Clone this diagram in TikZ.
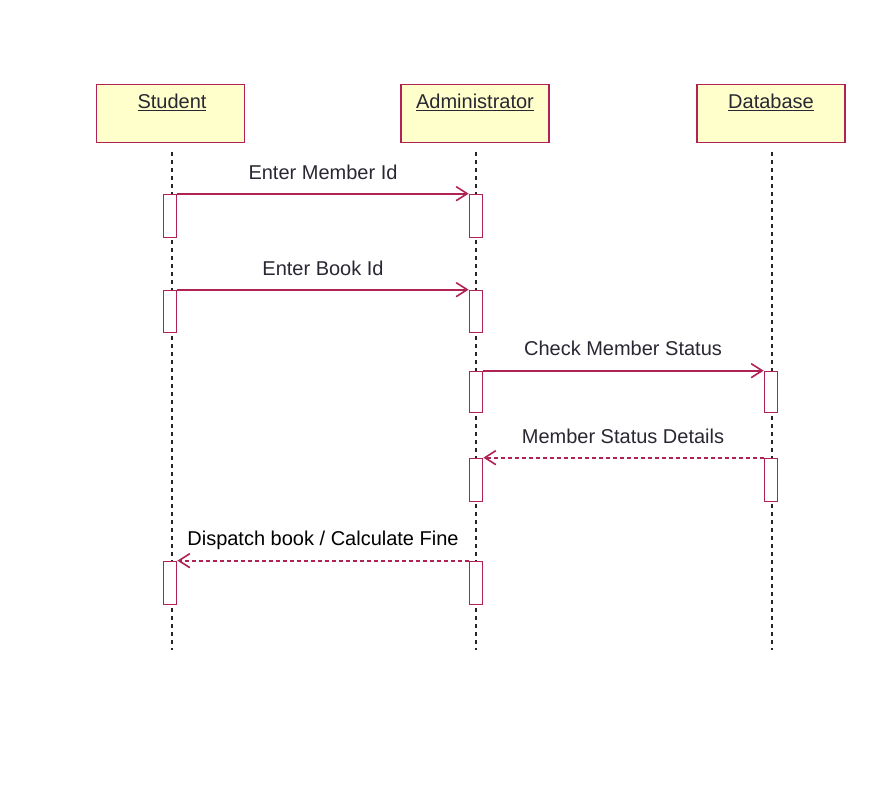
\documentclass[tikz,border=0pt]{standalone}
\usepackage{fontspec}
\setmainfont{Liberation Sans}
\usetikzlibrary{arrows.meta}
\definecolor{umlred}{RGB}{176,34,84}
\definecolor{umlfill}{RGB}{255,255,204}
\definecolor{txt}{RGB}{40,40,50}
\begin{document}
\begin{tikzpicture}[x=1pt,y=-1pt,
  objbox/.style={draw=umlred,fill=umlfill,line width=1.8pt,minimum width=148pt,minimum height=58pt,inner sep=0pt},
  actbox/.style={draw=umlred,fill=white,line width=1.7pt,minimum width=13pt,inner sep=0pt},
  lifeline/.style={black!85,line width=1.6pt,dash pattern=on 4pt off 4pt},
  msg/.style={umlred,line width=1.7pt,-{Straight Barb[length=11pt,width=14pt,line width=1.6pt]}},
  reply/.style={msg,dash pattern=on 4pt off 3pt},
  lbl/.style={text=txt,font=\fontsize{20}{22}\selectfont,inner sep=0pt},
  objlbl/.style={text=txt,font=\fontsize{20}{22}\selectfont,inner sep=0pt}
]
\useasboundingbox (0,0) rectangle (886,796);
% objects
\node[objbox] (stu) at (170.5,113.5) {};
\node[objbox] (adm) at (475,113.5) {};
\node[objbox] (db) at (771,113.5) {};
\node[objlbl] (stuT) at (172,102) {\underline{Student}};
\node[objlbl] (admT) at (475,102) {\underline{Administrator}};
\node[objlbl] (dbT) at (771,102) {\underline{Database}};
% lifelines
\coordinate (s0) at (172,152); \coordinate (s1) at (172,650);
\coordinate (a0) at (476,152); \coordinate (a1) at (476,650);
\coordinate (d0) at (772,152); \coordinate (d1) at (772,650);
\draw[lifeline] (s0) -- (s1);
\draw[lifeline] (a0) -- (a1);
\draw[lifeline] (d0) -- (d1);
% activations
\node[actbox,minimum height=43pt] (sA1) at (170,216) {};
\node[actbox,minimum height=42pt] (sA2) at (170,311.5) {};
\node[actbox,minimum height=43pt] (sA3) at (170,583) {};
\node[actbox,minimum height=43pt] (aA1) at (476,216) {};
\node[actbox,minimum height=42pt] (aA2) at (476,311.5) {};
\node[actbox,minimum height=41pt] (aA3) at (476,392) {};
\node[actbox,minimum height=43pt] (aA4) at (476,480) {};
\node[actbox,minimum height=43pt] (aA5) at (476,583) {};
\node[actbox,minimum height=41pt] (dA1) at (771,392) {};
\node[actbox,minimum height=43pt] (dA2) at (771,480) {};
% messages
\draw[msg] (sA1.north east) -- (aA1.north west);
\draw[msg] (sA2.north east) -- (aA2.north west);
\draw[msg] (aA3.north east) -- (dA1.north west);
\draw[reply] (dA2.north west) -- (aA4.north east);
\draw[reply] (aA5.north west) -- (sA3.north east);
% labels
\node[lbl] (m1) at (323,172) {Enter Member Id};
\node[lbl] (m2) at (323,268) {Enter Book Id};
\node[lbl] (m3) at (623,348) {Check Member Status};
\node[lbl] (m4) at (623,436) {Member Status Details};
\node[lbl,text=black] (m5) at (323,540) {Dispatch book / Calculate Fine};
\end{tikzpicture}
\end{document}
